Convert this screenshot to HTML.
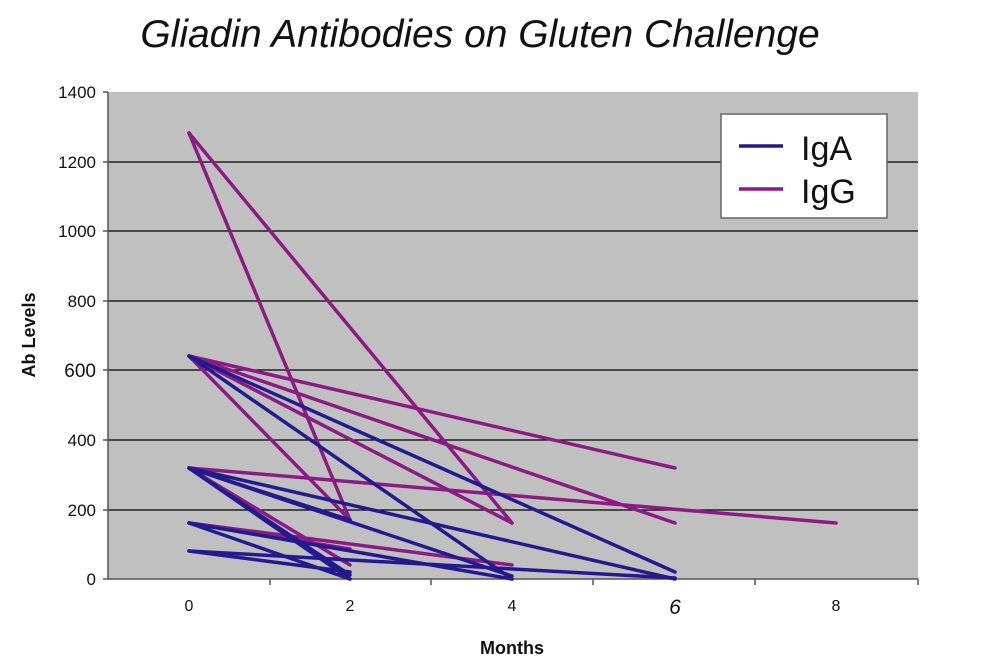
<!DOCTYPE html>
<html><head><meta charset="utf-8"><style>
html,body{margin:0;padding:0;background:#fff;}
svg{display:block;font-family:"Liberation Sans",Arial,sans-serif;}
</style></head><body>
<svg width="1000" height="663" viewBox="0 0 1000 663" xmlns="http://www.w3.org/2000/svg">
<text x="480" y="47" font-size="39" font-style="italic" text-anchor="middle" fill="#111">Gliadin Antibodies on Gluten Challenge</text>
<rect x="108" y="92" width="810" height="487" fill="#c0c0c0"/>
<g stroke="#000" stroke-width="1.3">
<line x1="108" y1="162" x2="918" y2="162"/>
<line x1="108" y1="231" x2="918" y2="231"/>
<line x1="108" y1="301" x2="918" y2="301"/>
<line x1="108" y1="370" x2="918" y2="370"/>
<line x1="108" y1="440" x2="918" y2="440"/>
<line x1="108" y1="510" x2="918" y2="510"/>
</g>
<g stroke="#555" stroke-width="1.5">
<line x1="108" y1="92" x2="108" y2="579"/>
<line x1="108" y1="579" x2="918" y2="579"/>
<line x1="103" y1="92" x2="108" y2="92"/><line x1="103" y1="162" x2="108" y2="162"/><line x1="103" y1="231" x2="108" y2="231"/><line x1="103" y1="301" x2="108" y2="301"/><line x1="103" y1="370" x2="108" y2="370"/><line x1="103" y1="440" x2="108" y2="440"/><line x1="103" y1="510" x2="108" y2="510"/><line x1="103" y1="579" x2="108" y2="579"/>
<line x1="270" y1="579" x2="270" y2="585"/><line x1="431" y1="579" x2="431" y2="585"/><line x1="593" y1="579" x2="593" y2="585"/><line x1="755" y1="579" x2="755" y2="585"/><line x1="918" y1="579" x2="918" y2="585"/>
</g>
<g font-size="17" text-anchor="end" fill="#111">
<text x="96" y="98">1400</text><text x="96" y="168">1200</text><text x="96" y="237">1000</text><text x="96" y="307">800</text><text x="96" y="377" font-size="19">600</text><text x="96" y="446">400</text><text x="96" y="516">200</text><text x="96" y="585">0</text>
</g>
<g font-size="16" text-anchor="middle" fill="#111">
<text x="189" y="611">0</text><text x="350" y="611">2</text><text x="512" y="611">4</text><text x="675" y="614" font-size="21" font-style="italic">6</text><text x="836" y="611">8</text>
</g>
<text x="512" y="654" font-size="18" font-weight="bold" text-anchor="middle" fill="#111">Months</text>
<text transform="translate(35,335) rotate(-90)" font-size="18" font-weight="bold" text-anchor="middle" fill="#111">Ab Levels</text>
<g stroke="#8b1a84" stroke-width="3.5" fill="none" stroke-linecap="round">
<line x1="189" y1="133" x2="350" y2="520"/>
<line x1="189" y1="133" x2="512" y2="523"/>
<line x1="189" y1="356" x2="350" y2="520"/>
<line x1="189" y1="356" x2="512" y2="523"/>
<line x1="189" y1="356" x2="675" y2="468"/>
<line x1="189" y1="356" x2="675" y2="523"/>
<line x1="189" y1="468" x2="836" y2="523"/>
<line x1="189" y1="468" x2="350" y2="565"/>
<line x1="189" y1="523" x2="350" y2="549"/>
<line x1="189" y1="523" x2="512" y2="565"/>
</g>
<g stroke="#221a8e" stroke-width="3.5" fill="none" stroke-linecap="round">
<line x1="189" y1="356" x2="512" y2="579"/>
<line x1="189" y1="356" x2="675" y2="572"/>
<line x1="189" y1="468" x2="675" y2="579"/>
<line x1="189" y1="468" x2="512" y2="576"/>
<line x1="189" y1="468" x2="350" y2="579"/>
<line x1="189" y1="468" x2="350" y2="575"/>
<line x1="189" y1="468" x2="350" y2="520"/>
<line x1="189" y1="523" x2="350" y2="579"/>
<line x1="189" y1="523" x2="512" y2="579"/>
<line x1="189" y1="551" x2="675" y2="578"/>
<line x1="189" y1="551" x2="350" y2="572"/>
</g>
<rect x="721" y="114" width="166" height="104" fill="#fff" stroke="#666" stroke-width="1.5"/>
<line x1="739" y1="146" x2="783" y2="146" stroke="#221a8e" stroke-width="3.5"/>
<line x1="739" y1="189" x2="783" y2="189" stroke="#8b1a84" stroke-width="3.5"/>
<text x="801" y="160" font-size="34" fill="#111">IgA</text>
<text x="801" y="203" font-size="34" fill="#111">IgG</text>
</svg>
</body></html>
